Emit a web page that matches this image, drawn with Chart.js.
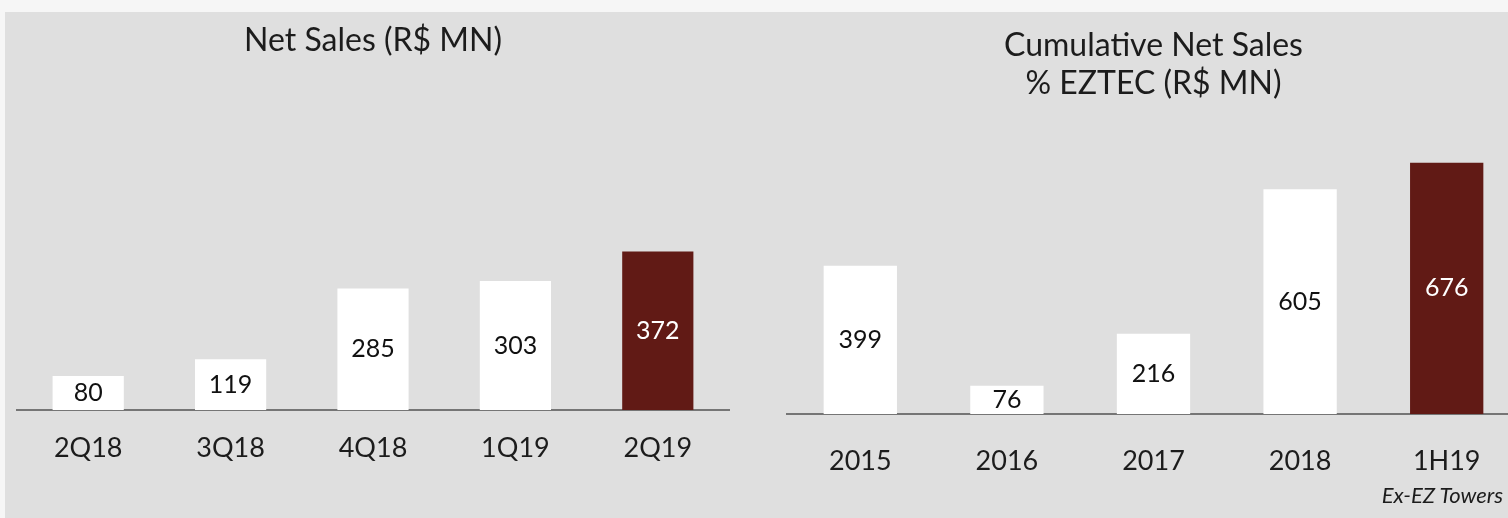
<!DOCTYPE html>
<html>
<head>
<meta charset="utf-8">
<script src="https://cdn.jsdelivr.net/npm/chart.js@4.4.1/dist/chart.umd.min.js"></script>
<style>
    html, body { margin: 0; padding: 0; width: 1508px; height: 518px; overflow: hidden; background: #f6f6f6; }
    .panel { position: absolute; left: 5px; top: 12px; right: 0; bottom: 0; background: #dfdfdf; }
    .chart-box { position: absolute; top: 12px; height: 506px; }
    #left-box { left: 5px; width: 750px; }
    #right-box { left: 760px; width: 780px; }
    .note { position: absolute; right: 5px; top: 481px; font: italic 22px 'Lato', sans-serif; color: #1c1c1c; }
</style>
</head>
<body>
<div class="panel"></div>
<div class="chart-box" id="left-box"><canvas id="net-sales"></canvas></div>
<div class="chart-box" id="right-box"><canvas id="cumulative"></canvas></div>
<div class="note">Ex-EZ Towers</div>
<script>
// Net sales per quarter
const quarterLabels = ['2Q18', '3Q18', '4Q18', '1Q19', '2Q19'];
const quarterSales = [80, 119, 285, 303, 372];

// Cumulative net sales, % EZTEC
const yearLabels = ['2015', '2016', '2017', '2018', '1H19'];
const yearSales = [399, 76, 216, 605, 676];

const WHITE = '#ffffff';
const DARK_RED = '#611a15';
const FONT = "'Lato', sans-serif";

// draws the value in the middle of each bar
const valueLabels = {
    id: 'valueLabels',
    afterDatasetsDraw(chart) {
        const ctx = chart.ctx;
        const meta = chart.getDatasetMeta(0);
        const data = chart.data.datasets[0].data;
        ctx.save();
        ctx.font = `25px ${FONT}`;
        ctx.textAlign = 'center';
        ctx.textBaseline = 'middle';
        meta.data.forEach((bar, i) => {
            ctx.fillStyle = i === data.length - 1 ? '#ffffff' : '#111111';
            ctx.fillText(data[i], bar.x, (bar.y + bar.base) / 2);
        });
        ctx.restore();
    }
};

function barColors(values) {
    return values.map((v, i) => i === values.length - 1 ? DARK_RED : WHITE);
}

function makeChart(id, labels, values, opts) {
    return new Chart(document.getElementById(id), {
        type: 'bar',
        data: {
            labels: labels,
            datasets: [{
                data: values,
                backgroundColor: barColors(values),
                borderWidth: 0,
                barPercentage: 0.5,
                categoryPercentage: 1
            }]
        },
        options: {
            responsive: true,
            maintainAspectRatio: false,
            animation: false,
            layout: { padding: opts.padding },
            plugins: {
                legend: { display: false },
                tooltip: { enabled: false },
                title: {
                    display: true,
                    text: opts.title,
                    color: '#1c1c1c',
                    font: { family: FONT, size: 32, weight: 'normal', lineHeight: 1.2 },
                    padding: opts.titlePadding
                }
            },
            scales: {
                x: {
                    grid: { display: false },
                    border: { display: true, color: '#757575', width: 2 },
                    ticks: {
                        color: '#1c1c1c',
                        padding: opts.tickPadding,
                        font: { family: FONT, size: 27 }
                    },
                    afterFit: (scale) => { scale.height = opts.axisHeight; }
                },
                y: {
                    display: false,
                    min: 0,
                    max: opts.max
                }
            }
        },
        plugins: [valueLabels]
    });
}

makeChart('net-sales', quarterLabels, quarterSales, {
    title: 'Net Sales (R$ MN)',
    padding: { left: 12, right: 26, top: 0, bottom: 0 },
    titlePadding: { top: 9, bottom: 95 },
    tickPadding: 14,
    axisHeight: 108,
    max: 600
});

makeChart('cumulative', yearLabels, yearSales, {
    title: ['Cumulative Net Sales', '% EZTEC (R$ MN)'],
    padding: { left: 27, right: 20, top: 0, bottom: 0 },
    titlePadding: { top: 14, bottom: 14 },
    tickPadding: 23,
    axisHeight: 104,
    max: 800
});
</script>
</body>
</html>
